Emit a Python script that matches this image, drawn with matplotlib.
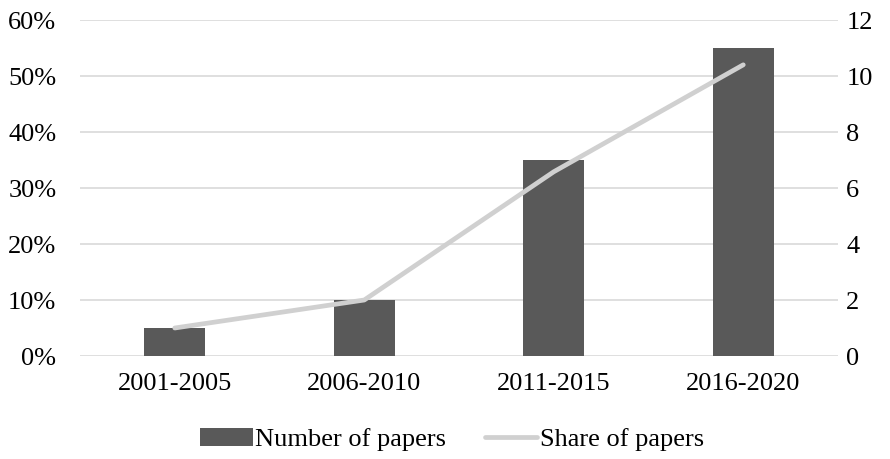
import numpy as np, matplotlib.pyplot as plt
from matplotlib.ticker import PercentFormatter

# data
periods = ['2001-2005', '2006-2010', '2011-2015', '2016-2020']
n_papers = [1, 2, 7, 11]
share = [5.0, 10.0, 32.9, 52.0]

plt.rcParams['font.family'] = ['Liberation Serif', 'DejaVu Serif']
fs = 19

fig = plt.figure(figsize=(8.9, 4.59), dpi=100)
ax = fig.add_axes([0.0899, 0.2244, 0.8517, 0.732])
ax2 = ax.twinx()

x = np.arange(len(periods))
bars = ax2.bar(x, n_papers, width=0.32, color='#595959', label='Number of papers', zorder=2)
line, = ax.plot(x, share, color='#d0d0d0', lw=3.4, solid_capstyle='round', label='Share of papers', zorder=3)

ax.set_zorder(ax2.get_zorder() + 1)
ax.patch.set_visible(False)

ax.set_xlim(-0.5, 3.5)
ax.set_ylim(0, 60)
ax2.set_ylim(0, 12)
ax.set_yticks(range(0, 61, 10))
ax2.set_yticks(range(0, 13, 2))
ax.yaxis.set_major_formatter(PercentFormatter(decimals=0))
ax.set_xticks(x)
ax.set_xticklabels(periods)

# light horizontal grid, drawn on the bar axis so it sits behind the bars
for v in range(0, 13, 2):
    ax2.axhline(v, color='#d9d9d9', lw=1.2, zorder=0)

for a in (ax, ax2):
    for s in a.spines.values():
        s.set_visible(False)
    a.tick_params(length=0, labelsize=fs)
ax.tick_params(axis='y', pad=17)
ax.tick_params(axis='x', pad=12)
ax2.tick_params(axis='y', pad=6)

fig.legend([bars, line], ['Number of papers', 'Share of papers'], loc='center',
           bbox_to_anchor=(0.508, 0.042), ncol=2, frameon=False, fontsize=fs,
           handlelength=2.0, handletextpad=0.1, columnspacing=1.45)

fig.savefig('out.png', dpi=100)
